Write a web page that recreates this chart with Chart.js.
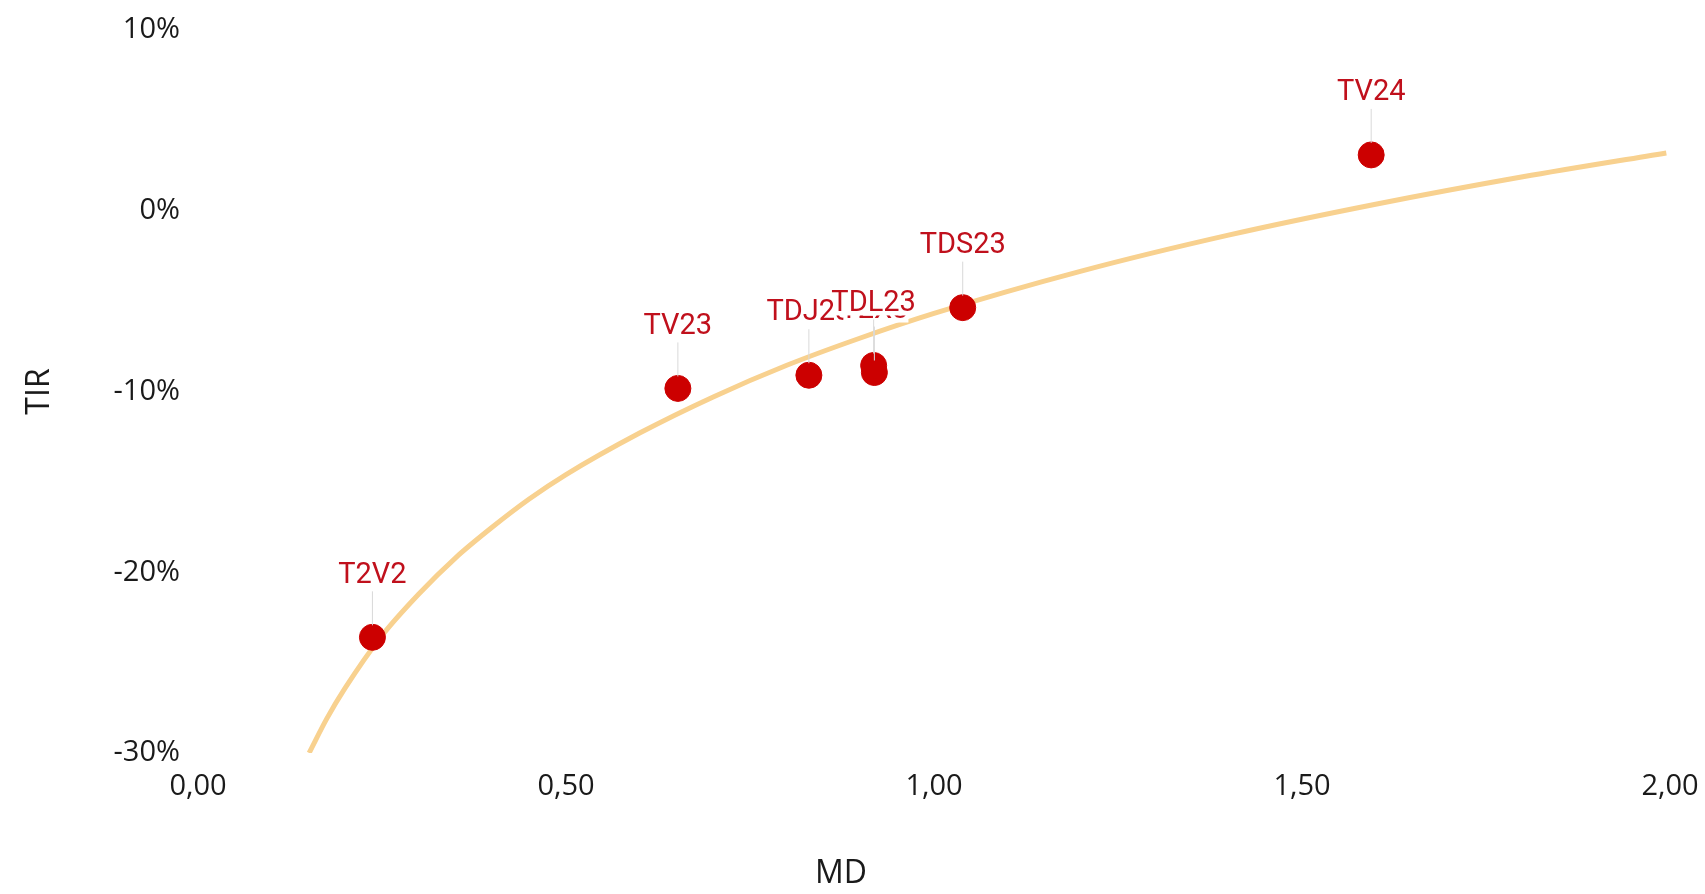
<!DOCTYPE html>
<html>
<head>
<meta charset="utf-8">
<script src="https://cdn.jsdelivr.net/npm/chart.js@4"></script>
<style>
    body { margin: 0; background: #fff; }
    #wrap { width: 1705px; height: 894px; }
</style>
</head>
<body>
<div id="wrap"><canvas id="grafico" width="1705" height="894"></canvas></div>
<script>
// bonos (etiqueta, duration modificada, TIR %)
const bonos = ['T2V2', 'TV23', 'TDJ23', 'T2X3', 'TDL23', 'TDS23', 'TV24'];
const md = [0.237, 0.652, 0.830, 0.919, 0.918, 1.039, 1.594];
const tir = [-23.6, -9.83, -9.1, -8.95, -8.56, -5.36, 3.09];

// curva de tendencia
const curvaMd = [0.151, 0.175, 0.2, 0.25, 0.3, 0.35, 0.4, 0.45, 0.5, 0.6, 0.7, 0.8, 0.9, 1.0, 1.2, 1.4, 1.6, 1.8, 1.995];
const curvaTir = [-30, -28.1, -26.4, -23.5, -21.2, -19.2, -17.5, -15.95, -14.6, -12.3, -10.3, -8.55, -7.04, -5.68, -3.34, -1.35, 0.36, 1.88, 3.2];

const ticksX = [0, 0.5, 1, 1.5, 2];
const ticksY = [-30, -20, -10, 0, 10];

const rojo = '#cc0000';
const rojoTexto = '#c0101c';
const naranja = '#f8d18f';

// etiquetas con fondo blanco y linea guia hacia el punto
const etiquetas = {
    id: 'etiquetas',
    afterDatasetsDraw(chart) {
        const ctx = chart.ctx;
        const meta = chart.getDatasetMeta(1);
        ctx.save();
        ctx.font = '29px Roboto';
        ctx.textAlign = 'center';
        ctx.textBaseline = 'middle';
        meta.data.forEach((p, i) => {
            const ty = p.y - 62;
            const w = ctx.measureText(bonos[i]).width;
            ctx.strokeStyle = '#d9d9d9';
            ctx.lineWidth = 1;
            ctx.beginPath();
            ctx.moveTo(p.x, ty + 16);
            ctx.lineTo(p.x, p.y - 12);
            ctx.stroke();
            ctx.fillStyle = '#fff';
            ctx.fillRect(p.x - w / 2 + 3, ty - 13, w - 3, 25);
            ctx.fillStyle = rojoTexto;
            ctx.fillText(bonos[i], p.x, ty);
        })
        // titulo del eje x (no centrado en el area del grafico)
        ctx.font = '32px "Open Sans"';
        ctx.fillStyle = '#1a1a1a';
        ctx.fillText('MD', 841, 874);
        ctx.restore();
    }
}

const ctx = document.getElementById('grafico').getContext('2d');
const grafico = new Chart(ctx, {
    type: 'scatter',
    data: {
        datasets: [
            {
                type: 'line',
                data: curvaMd.map((x, i) => ({ x: x, y: curvaTir[i] })),
                borderColor: naranja,
                borderWidth: 5,
                pointRadius: 0,
                cubicInterpolationMode: 'monotone',
                fill: false,
                order: 2
            },
            {
                data: md.map((x, i) => ({ x: x, y: tir[i] })),
                backgroundColor: rojo,
                borderColor: rojo,
                pointRadius: 13,
                pointHoverRadius: 13,
                order: 1
            }
        ]
    },
    options: {
        responsive: false,
        animation: false,
        devicePixelRatio: 1,
        layout: { padding: { top: 30, right: 35, bottom: 0, left: 0 } },
        plugins: {
            legend: { display: false },
            tooltip: { enabled: false }
        },
        scales: {
            x: {
                type: 'linear',
                min: 0,
                max: 2,
                border: { display: false },
                grid: { display: false, drawTicks: false },
                afterBuildTicks: s => { s.ticks = ticksX.map(v => ({ value: v })) },
                afterFit: s => { s.height = 141; s.paddingLeft = 0; s.paddingRight = 0 },
                ticks: {
                    padding: 16,
                    color: '#1a1a1a',
                    font: { family: 'Open Sans', size: 29 },
                    callback: v => v.toFixed(2).replace('.', ',')
                }
            },
            y: {
                type: 'linear',
                min: -30,
                max: 10,
                border: { display: false },
                grid: { display: false, drawTicks: false },
                afterBuildTicks: s => { s.ticks = ticksY.map(v => ({ value: v })) },
                afterFit: s => { s.width = 198; s.paddingTop = 0; s.paddingBottom = 0 },
                ticks: {
                    padding: 18,
                    color: '#1a1a1a',
                    font: { family: 'Open Sans', size: 29 },
                    callback: v => v + '%'
                },
                title: {
                    display: true,
                    text: 'TIR',
                    color: '#1a1a1a',
                    font: { family: 'Open Sans', size: 32 },
                    padding: { top: 21, bottom: 0 }
                }
            }
        }
    },
    plugins: [etiquetas]
});
</script>
</body>
</html>
